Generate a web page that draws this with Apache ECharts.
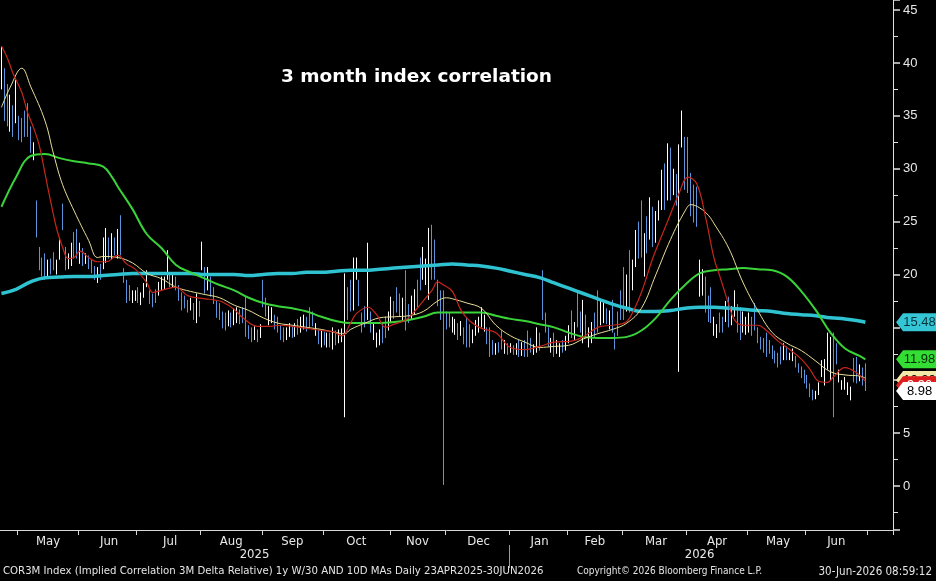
<!DOCTYPE html>
<html><head><meta charset="utf-8">
<script src="https://cdn.jsdelivr.net/npm/echarts@6/dist/echarts.min.js"></script>
<style>html,body{margin:0;padding:0;background:#000;}#c{width:936px;height:581px;}</style>
</head><body><div id="c"></div>
<script>
// ---- calendar ----
const startDay = '2025-04-23';
const endDay = '2026-06-30';
const holidays = ['2025-05-26','2025-06-19','2025-07-04','2025-09-01','2025-11-27','2025-12-25',
  '2026-01-01','2026-01-19','2026-02-16','2026-04-03','2026-05-25','2026-06-19'];
const padDays = 9;
const monthNames = ['Jan','Feb','Mar','Apr','May','Jun','Jul','Aug','Sep','Oct','Nov','Dec'];

// ---- daily bars (COR3M), low / high, direction u = up (white), d = down (blue) ----
const lo = [
 37.5,34.5,34,33.5,33,34.3,32.7,32.5,33,33,
 31.5,30.8,23.5,20.4,19.8,19.5,19.8,20,20.4,20,
 21.4,24.2,20.4,20.5,20.8,21.5,21.5,21,20.8,21,
 20.5,20.1,19.5,19.2,19.5,20.5,21.1,21.5,21.4,21.8,
 21.5,21.8,19.2,17.3,17.5,17.3,17.5,17.3,17.1,17.8,
 18.8,17.2,16.9,17.3,18,18.5,18.6,19.5,18.8,18.8,
 18.5,17.5,16.6,16.8,16.4,16.6,15.7,15.4,16,20.4,
 18.2,18.5,17.9,17.2,15.9,15.7,14.9,14.7,15.1,15,
 15.2,15.4,15.3,15.4,14.1,13.9,13.6,13.8,13.6,14,
 16.9,16,15.2,15.4,14.8,14.5,13.8,13.6,13.8,14.1,
 14,14.1,14.3,14.5,14.8,14.6,15,15.1,14.2,13.4,
 13.1,13.3,13.1,13.1,12.9,13.3,13.5,13.6,14.7,15.7,
 16.5,16.6,19.5,17,14.5,15,15.7,14.5,13.8,13.1,
 13.3,13.5,14,14.7,15.4,15.8,16.4,16,15.6,14.7,
 15.4,15.7,16.2,16.9,18.5,19.5,19,17.6,19.5,19.5,
 17,15.7,13.8,14.8,15,14.5,14.3,13.8,14.2,13.4,
 13.1,13.1,13.5,14.2,14.5,15,14.6,13.4,12.2,12.4,
 12.4,12.6,12.9,12.5,12.4,12.6,12.4,12.4,12.2,12.3,
 12.2,12.2,12.6,12.4,12.6,12.8,15.7,14.5,13.2,12.6,
 12.2,12.5,12.2,12.6,12.8,13.5,14,13.8,15,14.5,
 13.5,14,13.1,13.5,14,14.5,15.2,15.4,15.3,14.8,
 14.5,12.9,14.2,15.7,15.7,16.5,16.4,18.5,20.7,21.5,
 21.6,19.8,22,23.3,22.6,23,25.1,26.1,26.1,27,
 27,27.5,26.5,29,32,28,27.7,25.5,24.9,24.5,
 17.9,18,16.4,15.5,15.4,14.2,14,14.5,14.5,15.5,
 15,15.2,16,14.5,13.8,14.5,14.3,14.5,14.2,14.7,
 13.5,12.9,12.6,12.2,12.5,12,11.6,11.2,11.5,11.9,
 11.9,11.9,11.8,11.2,10.7,10.2,9.7,9.2,8.4,8.1,
 8.2,8.6,10.3,9.5,11,10,11,11.5,9.8,9.1,
 9.1,8.6,8.1,9.8,9.7,9.9,9.5,8.98
];
const hi = [
 41.5,39.5,38,37,36,38.4,35,34.8,35.5,36.2,
 34,32.5,27,22.6,21.6,22,21.4,21.5,22.1,21.4,
 23.5,26.7,22.6,22,23,24,24.3,23,22.5,22,
 21.8,21.4,20.8,20.7,21,23.5,24.4,23.5,23.9,23.5,
 24.3,25.6,20.6,19.5,19,18.5,18.5,18.8,18.3,19.2,
 20.4,18.5,18.2,18.6,19.3,19.8,19.8,22.3,20.1,20.1,
 19.8,19,18.3,18,17.6,17.8,17.3,18.2,17.5,23.1,
 20.7,20.7,19.8,18.8,17.5,17.3,16.5,16.4,16.6,16.4,
 16.8,16.9,16.7,16.9,17.9,15.2,15,15.1,14.8,15.3,
 19.5,17.8,17,16.9,16.2,16,15.2,15,15,15.4,
 15.2,15.4,15.8,16,16.2,16,16.9,16.5,15.4,14.8,
 14.7,14.6,14.5,14.5,15,14.7,14.8,14.9,20.1,18.8,
 19.5,21.6,21.6,19.5,16.4,17,23,16.5,15.5,14.5,
 14.8,15.5,16,16.5,17.9,17.5,18.8,18.2,17.8,20.4,
 17.2,18,18.6,19.5,21.6,22.6,21.5,24.4,24.7,23.3,
 19.5,18.5,16.4,16.5,16.4,16,15.8,15.4,15.6,15,
 16,15.3,14.8,15.7,16,16.9,16.2,15,15,13.8,
 13.5,13.6,14.7,13.8,13.5,13.5,13.3,13.5,13.8,13.6,
 13.8,14.7,14,13.4,15,14.5,20.4,16.4,15,14,
 14.5,13.8,13.5,13.8,14.2,15.2,16.6,15.5,18.5,16.5,
 17.6,16.2,15,15.5,16.4,18.5,17.5,17.3,16.8,16.6,
 17.6,14.5,16.5,18.5,20.7,20,22.3,21.4,24.2,25,
 27,23.9,25.5,27.3,26.4,26,27,29.9,30.5,32.4,
 32,30,29.5,32.3,35.5,33,33,29.6,28.5,28.3,
 21.4,20.5,19.8,18,18.8,16,15.3,16.4,16,17.5,
 17.9,17,18.5,17.2,16.9,16.5,16,16.4,16,17.3,
 15,14.1,14,14.5,13.8,13.3,12.8,12.6,13.2,13.5,
 13.2,12.6,13,12.3,11.6,11.3,11,10.5,9.7,9.1,
 9,9.8,11.9,12,14.5,14.1,14.5,13.5,11,10,
 10.3,9.8,9.4,12.1,12.2,11.5,11.2,11.6
];
const dir = ('uddud udddd duddd duddu udduu ddudu dddud uudud udddd uuduu ' +
 'udddu uuudu ddddd ududu duddd dddud uuddd ddudu dduud ddduu ' +
 'duduu dddud ududu duuud duudd duduu udduu dddud duudd uuudd ' +
 'ddddd uudud dduuu uuddd uddud ududu ddduu ddddu duudu ududd ' +
 'uduud duudu ddddd uduud dudud uuudu duduu ddddd uuddd uuddu ' +
 'duudd uuudd ddddd ddddu duudd ddddd uuuuu udduu uuudd udd').replace(/ /g,'');
// long wicks: [day index, low, high]
const wicks = [[118, 6.5, 20.1], [152, 0.1, 18.5], [233, 10.8, 32.3], [286, 6.5, 14.5]];

// ---- moving averages: [day index, value] ----
const ma10 = [[0,41.6],[2,40.5],[4,39],[7,37.2],[9,35.3],[11,33.9],[13,32.2],[15,29.5],[17,26.8],[19,24.3],
 [21,22.6],[23,21.5],[25,21.6],[27,22.2],[30,21.6],[33,21.2],[36,21.2],[40,21.8],[43,21.0],[46,20.5],
 [50,19.2],[52,18.3],[55,18.5],[60,18.8],[64,18.0],[70,17.7],[73,17.6],[76,17.4],[80,16.7],[83,15.9],
 [88,15.1],[92,15.1],[96,15.2],[100,15.1],[105,14.9],[110,14.7],[114,14.6],[117,14.2],[120,15.4],[122,16.3],
 [126,16.9],[129,16.2],[132,15.0],[135,15.3],[139,15.7],[142,16.5],[145,17.5],[148,18.5],[150,19.3],[152,19.0],
 [155,18.4],[158,16.6],[161,15.6],[165,14.9],[170,14.5],[175,13.1],[180,12.9],[185,13.2],[190,13.6],[196,13.7],
 [200,14.1],[205,15.0],[210,15.2],[214,15.4],[216,15.9],[220,18.3],[224,21.6],[229,25.0],[233,27.7],[236,29.2],
 [239,28.6],[242,25.5],[245,21.5],[247,19.8],[250,17.2],[252,15.7],[255,15.2],[260,15.2],[263,14.7],[267,13.7],
 [271,12.9],[275,12.0],[278,11.0],[281,9.9],[284,9.8],[286,10.3],[290,11.2],[294,10.7],[297,9.9]];
const ma30 = [[0,35.8],[3,37.7],[7,39.5],[10,37.8],[15,34.5],[18,31.3],[21,28.5],[25,26.0],[30,23.2],[33,21.6],
 [35,21.7],[40,21.6],[45,21.1],[50,20.1],[55,19.6],[60,18.8],[65,18.4],[70,18.1],[75,17.8],[80,17.1],
 [85,16.6],[90,15.9],[95,15.4],[100,15.2],[105,15.0],[110,14.8],[115,14.5],[118,14.4],[120,14.8],[125,15.4],
 [130,15.9],[135,16.0],[140,16.1],[145,16.5],[150,17.5],[153,17.8],[155,17.7],[160,17.3],[165,16.8],[170,15.2],
 [175,14.2],[180,13.6],[185,13.1],[190,13.2],[195,13.3],[200,13.9],[205,14.4],[210,14.8],[215,15.4],[220,16.8],
 [225,20.0],[230,23.3],[235,26.0],[237,26.6],[240,26.3],[243,25.6],[245,24.8],[250,22.5],[255,19.2],[260,16.6],
 [265,14.5],[270,13.5],[275,12.8],[280,11.8],[285,10.8],[290,10.5],[295,10.4],[297,10.2]];
const maMid = [[0,26.4],[5,29.2],[10,31.2],[15,31.4],[20,31.0],[25,30.7],[30,30.5],[35,30.2],[38,29.2],[40,28.3],
 [45,26.2],[50,23.8],[55,22.5],[60,20.9],[65,20.2],[70,19.6],[75,19.0],[80,18.5],[85,17.8],[90,17.3],
 [95,17.0],[100,16.8],[105,16.5],[110,16.0],[115,15.6],[120,15.4],[125,15.4],[130,15.4],[135,15.5],[140,15.7],
 [145,16.0],[150,16.4],[155,16.4],[160,16.4],[165,16.4],[170,16.1],[175,15.8],[180,15.6],[185,15.3],[190,15.0],
 [195,14.5],[200,14.1],[205,14.0],[210,14.0],[215,14.1],[220,14.7],[225,15.9],[230,17.6],[235,19.0],[240,20.1],
 [245,20.4],[250,20.5],[255,20.6],[260,20.5],[265,20.4],[270,19.8],[275,18.4],[280,16.6],[285,14.5],[290,13.0],
 [295,12.3],[297,11.98]];
const ma1y = [[0,18.2],[5,18.6],[10,19.3],[15,19.7],[20,19.75],[25,19.8],[30,19.8],[35,19.9],[40,20.0],[45,20.1],
 [50,20.1],[55,20.1],[60,20.1],[65,20.1],[70,20.0],[75,20.0],[80,20.0],[85,19.9],[90,20.0],[95,20.1],
 [100,20.1],[105,20.2],[110,20.2],[115,20.3],[120,20.4],[125,20.4],[130,20.5],[135,20.6],[140,20.7],[145,20.8],
 [150,20.9],[155,21.0],[160,20.9],[165,20.8],[170,20.6],[175,20.3],[180,20.0],[185,19.7],[190,19.2],[195,18.7],
 [200,18.2],[205,17.7],[210,17.2],[215,16.8],[220,16.5],[225,16.5],[230,16.6],[235,16.8],[240,16.9],[245,16.9],
 [250,16.8],[255,16.7],[260,16.6],[265,16.5],[270,16.3],[275,16.2],[280,16.1],[285,15.9],[290,15.8],[295,15.6],
 [297,15.48]];

const titleText = '3 month index correlation';
const footLeft = 'COR3M Index (Implied Correlation 3M Delta Relative) 1y W/30 AND 10D MAs Daily 23APR2025-30JUN2026';
const footMid = 'Copyright\u00A9 2026 Bloomberg Finance L.P.';
const footRight = '30-Jun-2026 08:59:12';

// ---- build categories ----
function iso(d){ return d.toISOString().slice(0,10); }
const days = [];
(function(){
  let d = new Date(startDay + 'T00:00:00Z');
  const end = new Date(endDay + 'T00:00:00Z');
  while (d <= end) {
    const w = d.getUTCDay(), s = iso(d);
    if (w !== 0 && w !== 6 && holidays.indexOf(s) < 0) days.push(s);
    d = new Date(d.getTime() + 864e5);
  }
})();
const nData = days.length;
const cats = days.slice();
(function(){
  let d = new Date(endDay + 'T00:00:00Z'); let n = 0;
  while (n < padDays) { d = new Date(d.getTime() + 864e5); const w = d.getUTCDay();
    if (w !== 0 && w !== 6) { cats.push(iso(d)); n++; } }
})();
const N = cats.length;
const tickAt = new Array(N).fill(false);
const monthLabel = new Array(N).fill('');
const yearLabel = new Array(N).fill('');
const janIdx = days.findIndex(d => d.slice(0,4) === '2026');
(function(){
  const groups = [];
  for (let i = 0; i < nData; i++) {
    const k = days[i].slice(0,7);
    if (!groups.length || groups[groups.length-1].k !== k) groups.push({k, s:i, n:0});
    groups[groups.length-1].n++;
  }
  groups.forEach(g => {
    if (g.s > 0) tickAt[g.s] = true;
    if (g.n >= 10) monthLabel[g.s + Math.floor(g.n/2)] = monthNames[+g.k.slice(5,7)-1];
  });
  tickAt[nData] = true;
  yearLabel[Math.floor((janIdx - 1) / 2)] = '2025';
  yearLabel[Math.floor((janIdx + N - 1) / 2)] = '2026';
})();

const candles = [];
for (let i = 0; i < nData; i++) {
  const up = dir[i] === 'u';
  let l = lo[i], h = hi[i];
  const w = wicks.find(x => x[0] === i);
  if (w) { l = Math.min(l, w[1]); h = Math.max(h, w[2]); }
  candles.push(up ? [lo[i], hi[i], l, h] : [hi[i], lo[i], l, h]);
}

const FONT_AX = '"Liberation Sans Narrow","DejaVu Sans Condensed",sans-serif';
const FONT_NUM = '"Liberation Sans",sans-serif';
const tagPath = 'path://M0,9L7,0L41,0L41,18L7,18Z';
const lastCat = cats[N-1];
function tag(value, text, bg, fg, z, dy){
  return {
    symbol: tagPath, symbolSize: [41, 18], symbolKeepAspect: false, symbolOffset: [25, dy || 0],
    silent: true, z: z, animation: false,
    itemStyle: { color: bg },
    label: { show: true, formatter: text, color: fg, fontSize: 13, fontFamily: FONT_NUM, offset: [3, 0] },
    data: [{ coord: [lastCat, value] }]
  };
}
const last = a => a[a.length-1][1];

const chart = echarts.init(document.getElementById('c'), null, {renderer: 'canvas'});
chart.setOption({
  backgroundColor: '#000',
  animation: false,
  title: { text: titleText, left: 276, top: 63,
    textStyle: { color: '#fff', fontSize: 18.5, fontWeight: 'bold', fontFamily: '"DejaVu Sans",sans-serif' } },
  grid: { left: 0, right: 43, top: 0, bottom: 51, containLabel: false },
  xAxis: [{
    type: 'category', data: cats, boundaryGap: true,
    axisLine: { show: true, onZero: false, lineStyle: { color: '#d8d8d8', width: 1 } },
    axisTick: { show: true, interval: (i) => tickAt[i], length: 5, lineStyle: { color: '#d8d8d8' } },
    axisLabel: { show: true, interval: (i) => monthLabel[i] !== '', formatter: (v, i) => monthLabel[i],
      color: '#e8e8e8', fontSize: 13, fontFamily: FONT_AX, margin: 5 },
    splitLine: { show: false }
  }, {
    type: 'category', data: cats, boundaryGap: true, position: 'bottom', offset: 14,
    axisLine: { show: false, onZero: false },
    axisTick: { show: false },
    axisLabel: { show: true, interval: (i) => yearLabel[i] !== '', formatter: (v, i) => yearLabel[i],
      color: '#e8e8e8', fontSize: 13, fontFamily: FONT_AX, margin: 4 },
    splitLine: { show: false }
  }],
  yAxis: {
    type: 'value', position: 'right', min: -4.16, max: 45.95, splitNumber: 10, scale: false,
    axisLine: { show: true, lineStyle: { color: '#e0e0e0', width: 1 } },
    axisTick: { show: true, length: 7, lineStyle: { color: '#e0e0e0', width: 1.5 } },
    minorTick: { show: true, splitNumber: 2, length: 5, lineStyle: { color: '#e0e0e0' } },
    axisLabel: { color: '#e8e8e8', fontSize: 13, fontFamily: FONT_NUM, margin: 10, showMinLabel: false, showMaxLabel: false },
    splitLine: { show: false }
  },
  graphic: [
    { id: 'f1', type: 'text', left: 3, top: 566, style: { text: footLeft, fill: '#e4e4e4', font: '11.3px ' + FONT_AX } },
    { id: 'f2', type: 'text', left: 577, top: 566, style: { text: footMid, fill: '#e4e4e4', font: '10px ' + FONT_AX } },
    { id: 'f3', type: 'text', right: 4, top: 566, style: { text: footRight, fill: '#e4e4e4', font: '11.5px ' + FONT_AX } }
  ],
  series: [
    { name: 'COR3M', type: 'candlestick', data: candles, barWidth: 1, z: 2,
      itemStyle: { color: '#ffffff', color0: '#5b93dc', borderColor: '#ffffff', borderColor0: '#5b93dc', borderWidth: 1 },
      markPoint: tag(lo[nData-1], lo[nData-1].toFixed(2), '#ffffff', '#000', 14, 0) },
    { name: '1y MA', type: 'line', data: ma1y, smooth: 0.4, symbol: 'none', z: 3,
      lineStyle: { color: '#2fc3d2', width: 3.5 },
      markPoint: tag(last(ma1y), last(ma1y).toFixed(2), '#35c6d6', '#06343c', 10, 0) },
    { name: 'MA mid', type: 'line', data: maMid, smooth: 0.4, symbol: 'none', z: 4,
      lineStyle: { color: '#3ad43a', width: 2 },
      markPoint: tag(last(maMid), last(maMid).toFixed(2), '#33dd33', '#062a06', 10, 0) },
    { name: '30D MA', type: 'line', data: ma30, smooth: 0.4, symbol: 'none', z: 5,
      lineStyle: { color: '#e8df98', width: 1 },
      markPoint: tag(last(ma30), last(ma30).toFixed(2), '#f2e8a8', '#000', 12, 2) },
    { name: '10D MA', type: 'line', data: ma10, smooth: 0.4, symbol: 'none', z: 6,
      lineStyle: { color: '#c8261c', width: 1.2 },
      markPoint: tag(last(ma10), last(ma10).toFixed(2), '#e01e1e', '#fff', 13, 4) }
  ]
});

// year separator at the first 2026 session, placed through the axis scale
(function(){
  const c0 = chart.convertToPixel({xAxisIndex: 0}, cats[janIdx]);
  const c1 = chart.convertToPixel({xAxisIndex: 0}, cats[janIdx + 1]);
  const x = Math.round(c0 - (c1 - c0) / 2) + 0.5;
  chart.setOption({ graphic: [{ id: 'sep', type: 'line', silent: true,
    shape: { x1: x, y1: 545, x2: x, y2: 568 }, style: { stroke: '#9a9a9a', lineWidth: 1 } }] });
})();
</script></body></html>
